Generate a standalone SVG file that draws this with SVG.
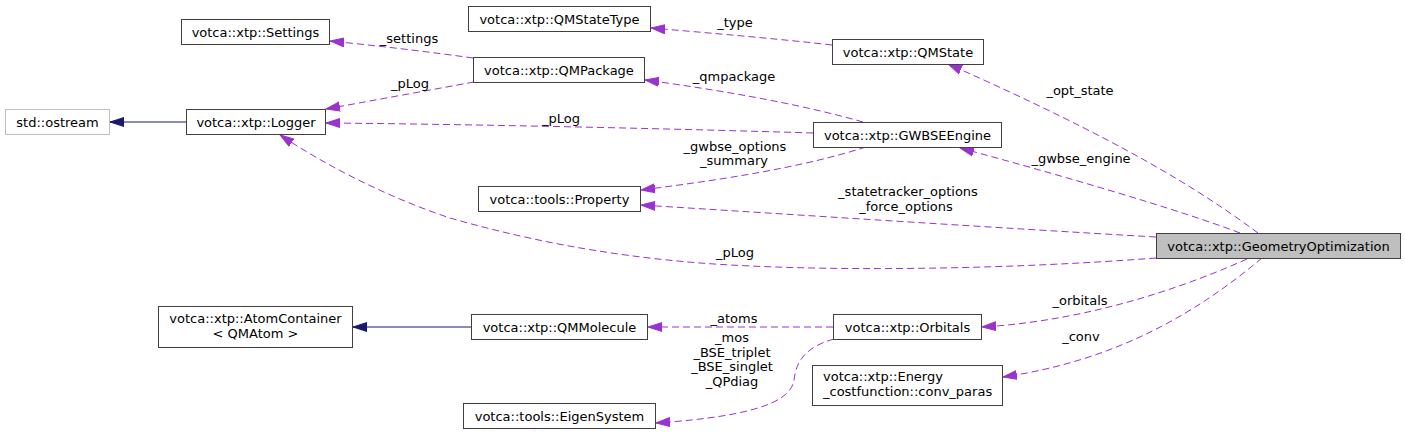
<svg xmlns="http://www.w3.org/2000/svg" width="1405" height="435" viewBox="0 0 1405 435">
<style>
text{font-family:"DejaVu Sans","Liberation Sans",sans-serif;font-size:13px;fill:#000}
.n rect{fill:#fff;stroke:#404040;stroke-width:1}
.n text{text-anchor:middle}
.ext rect{stroke:#bfbfbf}
.root rect{fill:#bfbfbf}
.e{fill:none;stroke:#9a32cd;stroke-width:1;stroke-dasharray:7,4}
.inh{fill:none;stroke:#191970;stroke-width:1}
.lbl{text-anchor:middle}
</style>
<defs>
<marker id="ap" markerUnits="userSpaceOnUse" markerWidth="15" markerHeight="11" viewBox="0 0 15 11" refX="14" refY="5.5" orient="auto"><path d="M0,1 L14,5.5 L0,10 z" fill="#9a32cd" stroke="#9a32cd"/></marker>
<marker id="ab" markerUnits="userSpaceOnUse" markerWidth="15" markerHeight="11" viewBox="0 0 15 11" refX="14" refY="5.5" orient="auto"><path d="M0,1 L14,5.5 L0,10 z" fill="#191970" stroke="#191970"/></marker>
</defs>
<g id="edges">
<path class="inh" d="M186,122 L110,122" marker-end="url(#ab)"/>
<path class="inh" d="M471,327 L353,327" marker-end="url(#ab)"/>
<path class="e" d="M473,58 C430,52 380,46 330,41" marker-end="url(#ap)"/>
<path class="e" d="M474,82 C430,90 370,101 326,109" marker-end="url(#ap)"/>
<path class="e" d="M813,133 C650,128 450,124 326,123" marker-end="url(#ap)"/>
<path class="e" d="M863,122 C800,104 720,90 645,80" marker-end="url(#ap)"/>
<path class="e" d="M866,147 C800,168 720,180 641,190" marker-end="url(#ap)"/>
<path class="e" d="M832,45 C780,39 710,33 651,28" marker-end="url(#ap)"/>
<path class="e" d="M1258,233 C1200,190 1120,140 948,64" marker-end="url(#ap)"/>
<path class="e" d="M1240,233 C1180,210 1060,175 960,148" marker-end="url(#ap)"/>
<path class="e" d="M1156,237 C1000,228 800,215 641,205" marker-end="url(#ap)"/>
<path class="e" d="M1156,258 C1000,270 820,272 700,263 C600,255 520,238 450,218 C390,198 330,168 280,135" marker-end="url(#ap)"/>
<path class="e" d="M1247,259 C1200,280 1100,320 982,327" marker-end="url(#ap)"/>
<path class="e" d="M1262,258 C1200,310 1120,360 1003,377" marker-end="url(#ap)"/>
<path class="e" d="M833,327 L648,327" marker-end="url(#ap)"/>
<path class="e" d="M834,339 C805,347 796,362 794,380 C791,400 760,416 656,423" marker-end="url(#ap)"/>
<text class="lbl" x="409" y="43">_settings</text>
<text class="lbl" x="410" y="88">_pLog</text>
<text class="lbl" x="561" y="123">_pLog</text>
<text class="lbl" x="734" y="81">_qmpackage</text>
<text class="lbl" x="735" y="151">_gwbse_options</text>
<text class="lbl" x="734" y="165">_summary</text>
<text class="lbl" x="735" y="27">_type</text>
<text class="lbl" x="1080" y="95">_opt_state</text>
<text class="lbl" x="1081" y="163">_gwbse_engine</text>
<text class="lbl" x="908" y="196">_statetracker_options</text>
<text class="lbl" x="906" y="211">_force_options</text>
<text class="lbl" x="735" y="257">_pLog</text>
<text class="lbl" x="1080" y="305">_orbitals</text>
<text class="lbl" x="1081" y="341">_conv</text>
<text class="lbl" x="734" y="323">_atoms</text>
<text class="lbl" x="732" y="342">_mos</text>
<text class="lbl" x="732" y="357">_BSE_triplet</text>
<text class="lbl" x="732" y="371">_BSE_singlet</text>
<text class="lbl" x="732" y="386">_QPdiag</text>
</g>
<g id="settings" class="n"><rect x="181.5" y="19.5" width="148" height="25"/><text x="255.5" y="36.5">votca::xtp::Settings</text></g>
<g id="ostream" class="n ext"><rect x="5.5" y="109.5" width="104" height="25"/><text x="57.5" y="126.5">std::ostream</text></g>
<g id="logger" class="n"><rect x="186.5" y="109.5" width="139" height="25"/><text x="256" y="126.5">votca::xtp::Logger</text></g>
<g id="qmstatetype" class="n"><rect x="468.5" y="6.5" width="182" height="25"/><text x="559.5" y="23.5">votca::xtp::QMStateType</text></g>
<g id="qmpackage" class="n"><rect x="473.5" y="57.5" width="171" height="25"/><text x="559" y="74.5">votca::xtp::QMPackage</text></g>
<g id="qmstate" class="n"><rect x="832.5" y="39.5" width="151" height="25"/><text x="908" y="56.5">votca::xtp::QMState</text></g>
<g id="gwbseengine" class="n"><rect x="813.5" y="122.5" width="188" height="25"/><text x="907.5" y="139.5">votca::xtp::GWBSEEngine</text></g>
<g id="property" class="n"><rect x="478.5" y="186.5" width="162" height="25"/><text x="559.5" y="203.5">votca::tools::Property</text></g>
<g id="geomopt" class="n root"><rect x="1156.5" y="233.5" width="244" height="25"/><text x="1278.5" y="250.5">votca::xtp::GeometryOptimization</text></g>
<g id="atomcontainer" class="n"><rect x="158.5" y="306.5" width="194" height="41"/><text x="255.5" y="322.5">votca::xtp::AtomContainer</text><text x="255.5" y="337.5">&lt; QMAtom &gt;</text></g>
<g id="qmmolecule" class="n"><rect x="471.5" y="314.5" width="176" height="25"/><text x="559.5" y="331.5">votca::xtp::QMMolecule</text></g>
<g id="orbitals" class="n"><rect x="833.5" y="314.5" width="148" height="25"/><text x="907.5" y="331.5">votca::xtp::Orbitals</text></g>
<g id="eigensystem" class="n"><rect x="463.5" y="403.5" width="192" height="25"/><text x="559.5" y="420.5">votca::tools::EigenSystem</text></g>
<g id="energyconv" class="n"><rect x="812.5" y="365.5" width="190" height="40"/><text x="823" y="381" style="text-anchor:start">votca::xtp::Energy</text><text x="823" y="396" style="text-anchor:start">_costfunction::conv_paras</text></g>
</svg>
